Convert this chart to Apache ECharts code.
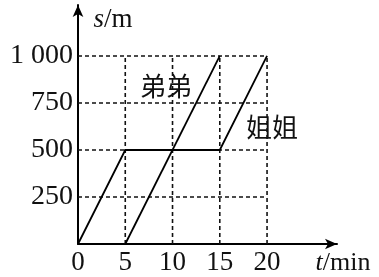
<!DOCTYPE html>
<html><head><meta charset="utf-8">
<script src="https://cdn.jsdelivr.net/npm/echarts@6/dist/echarts.min.js"></script>
<style>html,body{margin:0;padding:0;background:#fff}#c{width:379px;height:277px}</style>
</head><body><div id="c"></div>
<script>
var xTicks = [0, 5, 10, 15, 20];
var yTicks = [250, 500, 750, 1000];
var yTickLabels = ['250', '500', '750', '1 000'];
var seriesA = [[0, 0], [5, 500], [15, 500], [20, 1000]];
var seriesB = [[5, 0], [15, 1000]];
var gridXs = [5, 10, 15, 20];
var gridYs = [250, 500, 750, 1000];

var serif = 'Liberation Serif';
var chart = echarts.init(document.getElementById('c'));
var series = [];
gridXs.forEach(function (x) {
  series.push({type: 'line', data: [[x, 0], [x, 1000]], symbol: 'none', silent: true,
    lineStyle: {color: '#111', width: 1.6, type: [4, 3]}});
});
gridYs.forEach(function (y) {
  series.push({type: 'line', data: [[0, y], [20, y]], symbol: 'none', silent: true,
    lineStyle: {color: '#111', width: 1.6, type: [4, 3]}});
});
series.push({type: 'line', data: seriesA, symbol: 'none', lineStyle: {color: '#000', width: 1.8}});
series.push({type: 'line', data: seriesB, symbol: 'none', lineStyle: {color: '#000', width: 1.8}});

chart.setOption({
  animation: false,
  grid: {left: 78, right: 42, top: 5, bottom: 33},
  xAxis: {type: 'value', min: 0, max: 27.4,
    axisLine: {lineStyle: {color: '#000', width: 2}, symbol: ['none', 'arrow'], symbolSize: [8, 12]},
    axisTick: {show: false}, splitLine: {show: false},
    axisLabel: {customValues: xTicks, color: '#111', fontFamily: serif, fontSize: 27, margin: 5}},
  yAxis: {type: 'value', min: 0, max: 1271,
    axisLine: {lineStyle: {color: '#000', width: 2}, symbol: ['none', 'arrow'], symbolSize: [8, 12]},
    axisTick: {show: false}, splitLine: {show: false},
    axisLabel: {customValues: yTicks, color: '#111', fontFamily: serif, fontSize: 28, margin: 5,
      formatter: function (v) { return yTickLabels[yTicks.indexOf(v)]; }}},
  series: series,
  graphic: [
    {type: 'text', x: 113, y: 20, style: {rich: {i: {fontStyle: 'italic', fontFamily: serif, fontSize: 27}, n: {fontFamily: serif, fontSize: 27}}, text: '{i|s}{n|/m}', align: 'center', verticalAlign: 'middle', fill: '#111'}},
    {type: 'text', x: 343, y: 263, style: {rich: {i: {fontStyle: 'italic', fontFamily: serif, fontSize: 26}, n: {fontFamily: serif, fontSize: 26}}, text: '{i|t}{n|/min}', align: 'center', verticalAlign: 'middle', fill: '#111'}},
    {type: 'text', x: 166, y: 86, style: {text: '弟弟', font: '26px "Noto Sans CJK SC"', align: 'center', verticalAlign: 'middle', fill: '#111'}},
    {type: 'text', x: 272, y: 127, style: {text: '姐姐', font: '26px "Noto Sans CJK SC"', align: 'center', verticalAlign: 'middle', fill: '#111'}}
  ]
});
</script></body></html>
